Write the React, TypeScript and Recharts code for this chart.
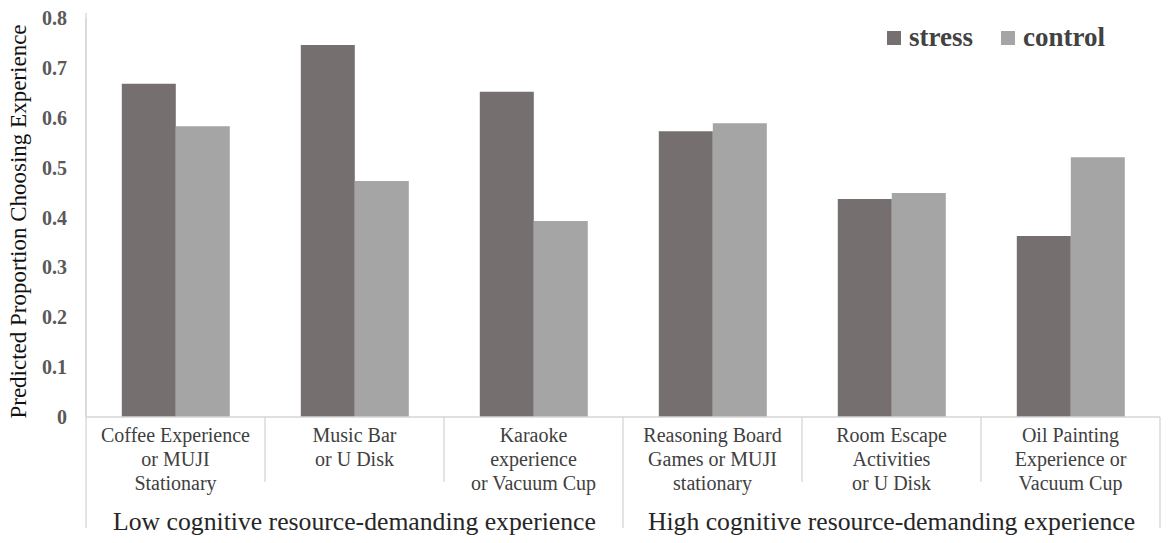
import React from 'react';
import { BarChart, Bar, XAxis, YAxis, Legend } from 'recharts';

const categories = ['coffee', 'music', 'karaoke', 'reasoning', 'room', 'oil'];
const categoryLines = [
  ['Coffee Experience', 'or MUJI', 'Stationary'],
  ['Music Bar', 'or U Disk'],
  ['Karaoke', 'experience', 'or Vacuum Cup'],
  ['Reasoning Board', 'Games or MUJI', 'stationary'],
  ['Room Escape', 'Activities', 'or U Disk'],
  ['Oil Painting', 'Experience or', 'Vacuum Cup'],
];
const stressValues = [0.668, 0.746, 0.652, 0.573, 0.437, 0.363];
const controlValues = [0.583, 0.473, 0.393, 0.589, 0.449, 0.521];
const yTicks = [0, 0.1, 0.2, 0.3, 0.4, 0.5, 0.6, 0.7, 0.8];
const groupLabels = ['Low cognitive resource-demanding experience', 'High cognitive resource-demanding experience'];
const groupSize = 3;

const data = categories.map((c, i) => ({
  name: c,
  stress: stressValues[i],
  control: controlValues[i],
}));

const W = 1170;
const H = 543;
const M = { top: 18, right: 10, bottom: 0, left: 0 };
const Y_W = 86;
const X_H = 126;
const SERIF = '"Liberation Serif", "Times New Roman", "DejaVu Serif", serif';
const STRESS = '#756f6f';
const CONTROL = '#a5a5a5';
const AXIS = '#d6d6d6';

const band = (W - M.left - M.right - Y_W) / categories.length;

const CategoryTick = (props: any) => {
  const { x, y, index } = props;
  const lines = categoryLines[index] || [];
  const isGroupEnd = (index + 1) % groupSize === 0;
  const isGroupMid = index % groupSize === 1;
  const groupIdx = Math.floor(index / groupSize);
  return (
    <g>
      {index === 0 && (
        <line x1={x - band / 2} x2={x - band / 2} y1={y - 404} y2={y + 111} stroke={AXIS} strokeWidth={1.3} />
      )}
      <line
        x1={x + band / 2}
        x2={x + band / 2}
        y1={y}
        y2={y + (isGroupEnd ? 111 : 65)}
        stroke={AXIS}
        strokeWidth={1.3}
      />
      {lines.map((t, k) => (
        <text
          key={k}
          x={x}
          y={y + 25 + k * 24}
          textAnchor="middle"
          fontFamily={SERIF}
          fontSize={20}
          fill="#404040"
        >
          {t}
        </text>
      ))}
      {isGroupMid && (
        <text x={x} y={y + 113} textAnchor="middle" fontFamily={SERIF} fontSize={25.7} fill="#262626">
          {groupLabels[groupIdx]}
        </text>
      )}
    </g>
  );
};

const LegendContent = () => (
  <div style={{ display: 'flex', alignItems: 'center', fontFamily: SERIF }}>
    <span style={{ width: 14, height: 14, background: STRESS, display: 'inline-block', marginRight: 8 }} />
    <span style={{ fontWeight: 'bold', fontSize: 27, color: '#424242', marginRight: 28 }}>stress</span>
    <span style={{ width: 14, height: 14, background: CONTROL, display: 'inline-block', marginRight: 8 }} />
    <span style={{ fontWeight: 'bold', fontSize: 27, color: '#424242' }}>control</span>
  </div>
);

export default function App() {
  return (
    <div style={{ position: 'absolute', left: 0, top: 0, width: W, height: H, background: '#fff' }}>
      <BarChart width={W} height={H} data={data} margin={M} barCategoryGap="20%" barGap={0}>
        <XAxis
          dataKey="name"
          height={X_H}
          interval={0}
          tick={<CategoryTick />}
          tickLine={false}
          tickSize={0}
          tickMargin={0}
          axisLine={{ stroke: AXIS, strokeWidth: 1.3 }}
        />
        <YAxis
          width={Y_W}
          domain={[0, 0.8]}
          ticks={yTicks}
          tickLine={false}
          tickSize={0}
          tickMargin={19}
          axisLine={{ stroke: AXIS, strokeWidth: 1.3 }}
          tickFormatter={(v: number) => (v === 0 ? '0' : String(v))}
          tick={{ fontFamily: SERIF, fontSize: 20, fontWeight: 'bold', fill: '#595959' }}
          label={{
            value: 'Predicted Proportion Choosing Experience',
            angle: -90,
            position: 'center',
            dx: -25,
            dy: 4,
            style: { fontFamily: SERIF, fontSize: 23, fill: '#111', textAnchor: 'middle' },
          }}
        />
        <Legend
          layout="vertical"
          align="center"
          verticalAlign="middle"
          content={<LegendContent />}
          wrapperStyle={{ position: 'absolute', top: 22, left: 887, width: 280, height: 36 }}
        />
        <Bar dataKey="stress" fill={STRESS} isAnimationActive={false} />
        <Bar dataKey="control" fill={CONTROL} isAnimationActive={false} />
      </BarChart>
    </div>
  );
}
